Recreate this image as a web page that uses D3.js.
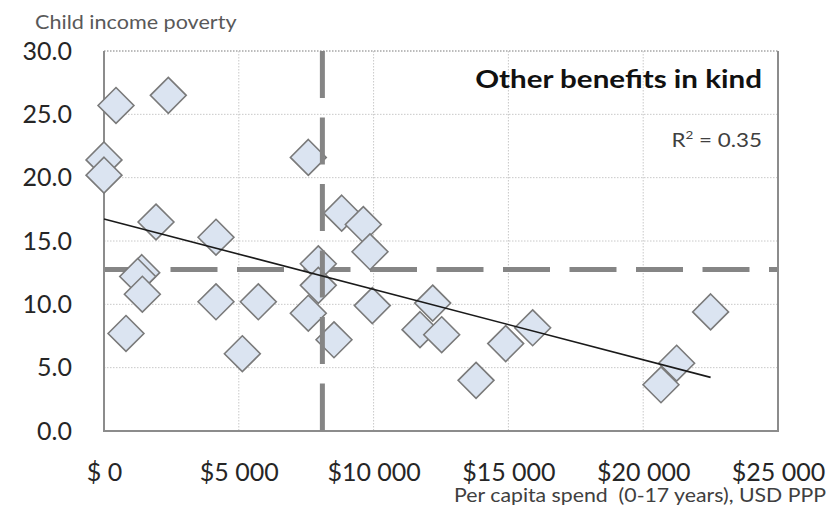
<!DOCTYPE html>
<html>
<head>
<meta charset="utf-8">
<script src="https://cdn.jsdelivr.net/npm/d3@7/dist/d3.min.js"></script>
<style>
  html, body { margin: 0; padding: 0; background: #ffffff; }
  svg { display: block; }
  text { font-family: Lato, "Open Sans", sans-serif; }
</style>
</head>
<body>
<svg id="chart" width="834" height="509"></svg>
<script>
// Per-capita spend on other benefits in kind (USD PPP) vs child income poverty rate (%)
const spend = [
  445, 2385, 0, 0, 1929, 4154, 1400, 1250, 1422, 816,
  4154, 5724, 5131, 7578, 8816, 9618, 9866, 7949, 7949, 7578,
  8531, 9952, 12192, 11721, 12525, 14900, 13800, 15900, 21240, 20660,
  22500
];
const poverty = [
  25.7, 26.5, 21.4, 20.2, 16.5, 15.3, 12.5, 12.2, 10.8, 7.7,
  10.2, 10.2, 6.1, 21.6, 17.2, 16.3, 14.15, 13.2, 11.5, 9.3,
  7.2, 9.9, 10.1, 8.0, 7.6, 6.9, 4.0, 8.15, 5.35, 3.65,
  9.4
];

// Reference (average) lines
const avgSpend = 8100;
const avgPoverty = 12.75;

// Axis ticks
const yTicks = [0, 5, 10, 15, 20, 25, 30];
const xTicks = [0, 5000, 10000, 15000, 20000, 25000];
const xTickLabels = ["$ 0", "$5 000", "$10 000", "$15 000", "$20 000", "$25 000"];

const titleText = "Other benefits in kind";
const rSquaredText = "0.35";
const yAxisTitle = "Child income poverty";
const xAxisTitle = "Per capita spend  (0-17 years), USD PPP";

const margin = { left: 104, right: 56, top: 51, bottom: 78 };
const W = 834, H = 509;
const svg = d3.select("#chart");

const x = d3.scaleLinear().domain([0, 25000]).range([margin.left, W - margin.right]);
const y = d3.scaleLinear().domain([0, 30]).range([H - margin.bottom, margin.top]);

const x0 = x.range()[0], x1 = x.range()[1];
const y0 = y.range()[0], y1 = y.range()[1];

// Dotted gridlines
const grid = svg.append("g").attr("class", "grid");
grid.selectAll("line.h").data(yTicks.filter(d => d > 0)).join("line")
  .attr("class", "h")
  .attr("x1", x0).attr("x2", x1)
  .attr("y1", d => y(d)).attr("y2", d => y(d))
  .attr("stroke", d => d === 30 ? "#a6a6a6" : "#c8c8c8")
  .attr("stroke-width", d => d === 30 ? 1.5 : 1)
  .attr("stroke-dasharray", "1.5,1.5");
grid.selectAll("line.v").data(xTicks.filter(d => d > 0 && d < 25000)).join("line")
  .attr("class", "v")
  .attr("x1", d => x(d)).attr("x2", d => x(d))
  .attr("y1", y1).attr("y2", y0)
  .attr("stroke", "#c8c8c8")
  .attr("stroke-width", 1)
  .attr("stroke-dasharray", "1.5,1.5");

// Horizontal average line (behind the markers)
svg.append("line")
  .attr("x1", x0).attr("x2", x1)
  .attr("y1", y(avgPoverty)).attr("y2", y(avgPoverty))
  .attr("stroke", "#858585")
  .attr("stroke-width", 5)
  .attr("stroke-dasharray", "47,19.5");

// Plot frame: left, bottom and right edges solid
svg.append("path")
  .attr("d", `M${x0},${y1}V${y0}H${x1}V${y1}`)
  .attr("fill", "none")
  .attr("stroke", "#8c8c8c")
  .attr("stroke-width", 2);

// Diamond markers
const pts = spend.map((s, i) => ({ s, p: poverty[i] }));
const diamond = d3.symbol().type(d3.symbolDiamond2).size(820);
svg.append("g").selectAll("path").data(pts).join("path")
  .attr("d", diamond)
  .attr("transform", d => `translate(${x(d.s)},${y(d.p)})`)
  .attr("fill", "#dbe4f1")
  .attr("stroke", "#7a7a7a")
  .attr("stroke-width", 1.6);

// Vertical average line
svg.append("line")
  .attr("x1", x(avgSpend)).attr("x2", x(avgSpend))
  .attr("y1", y1).attr("y2", y0)
  .attr("stroke", "#858585")
  .attr("stroke-width", 5)
  .attr("stroke-dasharray", "47,19.5");

// Linear trend (least squares)
const mx = d3.mean(spend), my = d3.mean(poverty);
const sxy = d3.sum(spend, (s, i) => (s - mx) * (poverty[i] - my));
const sxx = d3.sum(spend, s => (s - mx) * (s - mx));
const slope = sxy / sxx, intercept = my - slope * mx;
const [xmin, xmax] = d3.extent(spend);
svg.append("line")
  .attr("x1", x(xmin)).attr("y1", y(intercept + slope * xmin))
  .attr("x2", x(xmax)).attr("y2", y(intercept + slope * xmax))
  .attr("stroke", "#1a1a1a")
  .attr("stroke-width", 1.6);

// Axes
const yAxis = svg.append("g")
  .attr("transform", `translate(${x0},0)`)
  .call(d3.axisLeft(y).tickValues(yTicks).tickFormat(d3.format(".1f")).tickSize(0).tickPadding(32));
yAxis.select(".domain").remove();
yAxis.selectAll("text")
  .attr("font-family", "Lato, sans-serif")
  .attr("font-size", 25)
  .attr("fill", "#262626");

const xAxis = svg.append("g")
  .attr("transform", `translate(0,${y0})`)
  .call(d3.axisBottom(x).tickValues(xTicks).tickFormat((d, i) => xTickLabels[i]).tickSize(0).tickPadding(32));
xAxis.select(".domain").remove();
xAxis.selectAll("text")
  .attr("font-family", "Lato, sans-serif")
  .attr("font-size", 25)
  .attr("fill", "#262626");

// Text helper: slightly widened lettering
function label(tx, ty, sx, anchor) {
  return svg.append("text")
    .attr("transform", `translate(${tx},${ty}) scale(${sx},1)`)
    .attr("text-anchor", anchor);
}

label(35, 29, 1.08, "start")
  .attr("font-size", 20)
  .attr("fill", "#595959")
  .text(yAxisTitle);

label(826, 502, 1.15, "end")
  .attr("font-size", 18.5)
  .attr("fill", "#404040")
  .style("white-space", "pre")
  .text(xAxisTitle);

label(762, 88, 1.16, "end")
  .attr("font-size", 25.5)
  .attr("font-weight", "bold")
  .attr("fill", "#111111")
  .text(titleText);

const r2 = label(762, 147, 1.12, "end")
  .attr("font-size", 20)
  .attr("fill", "#404040");
r2.append("tspan").text("R");
r2.append("tspan").attr("dy", -8).attr("font-size", 12).text("2");
r2.append("tspan").attr("dy", 8).text(" = " + rSquaredText);
</script>
</body>
</html>
